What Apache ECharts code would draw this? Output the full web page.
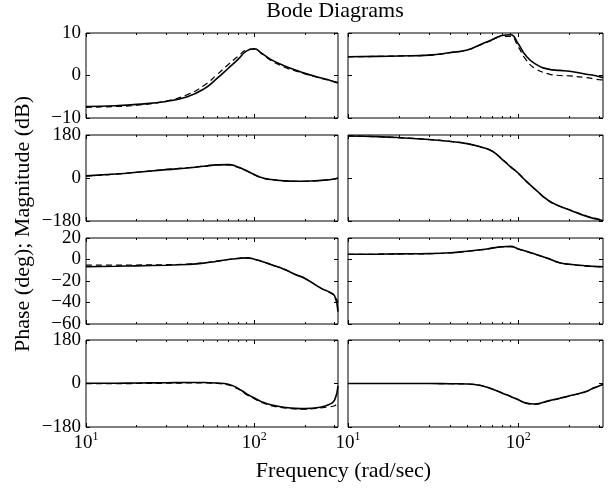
<!DOCTYPE html>
<html><head><meta charset="utf-8">
<script src="https://cdn.jsdelivr.net/npm/echarts@6/dist/echarts.min.js"></script>
<style>html,body{margin:0;padding:0;background:#fff}#c{width:610px;height:489px}</style>
</head><body><div id="c"></div>
<script>
// Frequency samples (rad/sec)
const freq = [10,15,20,30,40,50,60,70,80,90,100,110,125,150,175,200,250,280,300,314];
const freqMin = 10, freqMax = 314;
const xMajorTicks = [10, 100];
const xMinorTicks = [20,30,40,50,60,70,80,90,200,300];

// Y tick labels per row
const magTicksTop = [-10, 0, 10];
const phaseTicks = [-180, 0, 180];
const magTicksLow = [-60, -40, -20, 0, 20];

// Row 1: magnitude (dB), output 1
const mag11Solid  = [-7.3,-7.1,-6.8,-6.1,-5.0,-3.2,-0.7,1.7,3.8,5.8,6.3,5.3,3.8,2.3,1.3,0.5,-0.6,-1.1,-1.5,-1.7];
const mag11Dashed = [-7.5,-7.3,-7.0,-6.0,-4.5,-2.4,0.2,2.6,4.5,6.0,6.2,5.2,3.6,2.0,1.1,0.4,-0.7,-1.2,-1.5,-1.7];
const mag12Solid  = [4.4,4.5,4.6,4.8,5.4,6.0,7.3,8.4,9.4,9.6,7.4,4.8,2.8,1.5,1.2,1.0,0.3,0.0,-0.3,-0.5];
const mag12Dashed = [4.4,4.5,4.6,4.8,5.4,6.0,7.2,8.3,9.2,9.2,6.7,3.9,1.7,0.4,0.0,-0.1,-0.5,-0.8,-1.0,-1.05];
// Row 2: phase (deg), output 1
const ph11Solid  = [9,17,24,35,42,49,55,56,46,30,15,2,-6,-12,-13.5,-13.5,-10,-7,-4,0];
const ph11Dashed = [8,16,24,36,43,50,55,55,44,29,13,1,-7,-12,-13.5,-13.5,-10,-7,-4,-1];
const ph12Solid  = [176,173,169,161,153,144,130,113,79,47,20,-10,-46,-94,-118,-134,-160,-170,-175,-179];
const ph12Dashed = [176,173,169,161,153,144,130,113,80,48,19,-11,-47,-95,-118,-133,-158,-168,-173,-177];
// Row 3: magnitude (dB), output 2
const mag21Solid  = [-6.8,-6.3,-5.9,-5.3,-4.6,-3.4,-1.6,0.0,1.0,1.5,0.3,-1.6,-4.6,-9.0,-13.9,-17.6,-26.9,-30.5,-34.0,-48.5];
const mag21Dashed = [-5.3,-5.2,-5.1,-4.8,-4.3,-3.2,-1.5,0.0,1.0,1.5,0.3,-1.6,-4.6,-9.0,-13.9,-17.6,-26.9,-30.5,-34.5,-40];
const mag22Solid  = [4.9,5.0,5.2,5.5,6.3,7.7,9.0,10.6,11.8,12.2,9.8,8.0,5.2,0.9,-3.1,-4.4,-5.9,-6.4,-6.6,-6.8];
const mag22Dashed = [4.8,4.9,5.1,5.4,6.2,7.6,9.0,10.5,11.7,12.0,9.6,7.7,5.0,0.8,-3.2,-4.6,-6.1,-6.6,-6.8,-7.0];
// Row 4: phase (deg), output 2
const ph21Solid  = [1,1,2,3,4,4,2,-3,-20,-43,-60,-75,-88,-98,-103,-104,-97,-86,-68,-10];
const ph21Dashed = [-1,-1,0,1,2,2,0,-6,-23,-46,-63,-78,-91,-101,-105,-106,-101,-96,-92,-78];
const ph22Solid  = [0,0,0,0,-1,-2,-8,-23,-39,-54,-67,-80,-85,-72,-61,-51,-33,-17,-9,-2];
const ph22Dashed = [0,0,0,0,-1,-2,-8,-22,-38,-53,-67,-81,-86,-73,-62,-52,-34,-18,-10,-3];

const panels = [
  {ticks: magTicksTop, solid: mag11Solid, dashed: mag11Dashed},
  {ticks: magTicksTop, solid: mag12Solid, dashed: mag12Dashed},
  {ticks: phaseTicks,  solid: ph11Solid,  dashed: ph11Dashed},
  {ticks: phaseTicks,  solid: ph12Solid,  dashed: ph12Dashed},
  {ticks: magTicksLow, solid: mag21Solid, dashed: mag21Dashed},
  {ticks: magTicksLow, solid: mag22Solid, dashed: mag22Dashed},
  {ticks: phaseTicks,  solid: ph21Solid,  dashed: ph21Dashed},
  {ticks: phaseTicks,  solid: ph22Solid,  dashed: ph22Dashed}
];

const FONT = '"Liberation Serif", "Times New Roman", serif';
const colLeft = [86, 348], colWidth = [252, 255];
const rowTop = [33, 135, 238, 340], rowHeight = [85, 86, 86, 87];

const grids = [], xAxes = [], yAxes = [], series = [];
const minus = v => String(v).replace('-', '\u2212');

panels.forEach((p, i) => {
  const r = Math.floor(i / 2), c = i % 2;
  grids.push({left: colLeft[c], top: rowTop[r], width: colWidth[c], height: rowHeight[r],
    show: true, borderColor: '#000', borderWidth: 1, backgroundColor: 'transparent'});
  const xBase = {type: 'log', logBase: 10, min: freqMin, max: freqMax, gridIndex: i,
    axisLine: {show: false, onZero: false}, splitLine: {show: false}, minorTick: {show: false}, minorSplitLine: {show: false}};
  const xMainIndex = xAxes.length;
  xAxes.push(Object.assign({}, xBase, {position: 'bottom',
    axisTick: {show: true, inside: true, length: 4, customValues: xMajorTicks, lineStyle: {color: '#000', width: 1}},
    axisLabel: r === 3 ? {show: true, customValues: xMajorTicks, margin: 4,
      formatter: v => '{b|10}{s|' + Math.round(Math.log10(v)) + '}',
      rich: {b: {fontFamily: FONT, fontSize: 19, color: '#000', lineHeight: 24},
             s: {fontFamily: FONT, fontSize: 12, color: '#000', lineHeight: 12, verticalAlign: 'top'}}}
      : {show: false}}));
  xAxes.push(Object.assign({}, xBase, {position: 'top',
    axisTick: {show: true, inside: true, length: 4, customValues: xMajorTicks, lineStyle: {color: '#000', width: 1}},
    axisLabel: {show: false}}));
  xAxes.push(Object.assign({}, xBase, {position: 'bottom',
    axisTick: {show: true, inside: true, length: 2, customValues: xMinorTicks, lineStyle: {color: '#000', width: 1}},
    axisLabel: {show: false}}));
  xAxes.push(Object.assign({}, xBase, {position: 'top',
    axisTick: {show: true, inside: true, length: 2, customValues: xMinorTicks, lineStyle: {color: '#000', width: 1}},
    axisLabel: {show: false}}));

  const t = p.ticks;
  const yBase = {type: 'value', min: t[0], max: t[t.length - 1], interval: t[1] - t[0], gridIndex: i,
    axisLine: {show: false, onZero: false}, splitLine: {show: false},
    axisTick: {show: true, inside: true, length: 4, lineStyle: {color: '#000', width: 1}}};
  const yMainIndex = yAxes.length;
  yAxes.push(Object.assign({}, yBase, {position: 'left',
    axisLabel: c === 0 ? {show: true, margin: 5, fontFamily: FONT, fontSize: 19, color: '#000', formatter: minus,
      showMinLabel: true, showMaxLabel: true} : {show: false}}));
  yAxes.push(Object.assign({}, yBase, {position: 'right', axisLabel: {show: false}}));

  const pts = arr => freq.map((f, k) => [f, arr[k]]);
  series.push({type: 'line', xAxisIndex: xMainIndex, yAxisIndex: yMainIndex, data: pts(p.dashed),
    showSymbol: false, smooth: 0.5, silent: true, clip: true,
    lineStyle: {color: '#000', width: 1.2, type: [6, 4]}});
  series.push({type: 'line', xAxisIndex: xMainIndex, yAxisIndex: yMainIndex, data: pts(p.solid),
    showSymbol: false, smooth: 0.5, silent: true, clip: true,
    lineStyle: {color: '#000', width: 1.6, type: 'solid'}});
});

const chart = echarts.init(document.getElementById('c'), null, {renderer: 'canvas'});
chart.setOption({
  animation: false,
  backgroundColor: '#fff',
  grid: grids, xAxis: xAxes, yAxis: yAxes, series: series,
  graphic: [
    {type: 'text', x: 335, y: 11, style: {text: 'Bode Diagrams', font: '22px ' + FONT, fill: '#000',
      align: 'center', verticalAlign: 'middle', textAlign: 'center', textVerticalAlign: 'middle'}},
    {type: 'text', x: 343.5, y: 471, style: {text: 'Frequency (rad/sec)', font: '22px ' + FONT, fill: '#000',
      align: 'center', verticalAlign: 'middle', textAlign: 'center', textVerticalAlign: 'middle'}},
    {type: 'text', x: 23, y: 224, rotation: Math.PI / 2, style: {text: 'Phase (deg); Magnitude (dB)', font: '22px ' + FONT, fill: '#000',
      align: 'center', verticalAlign: 'middle', textAlign: 'center', textVerticalAlign: 'middle'}}
  ]
});
</script></body></html>
